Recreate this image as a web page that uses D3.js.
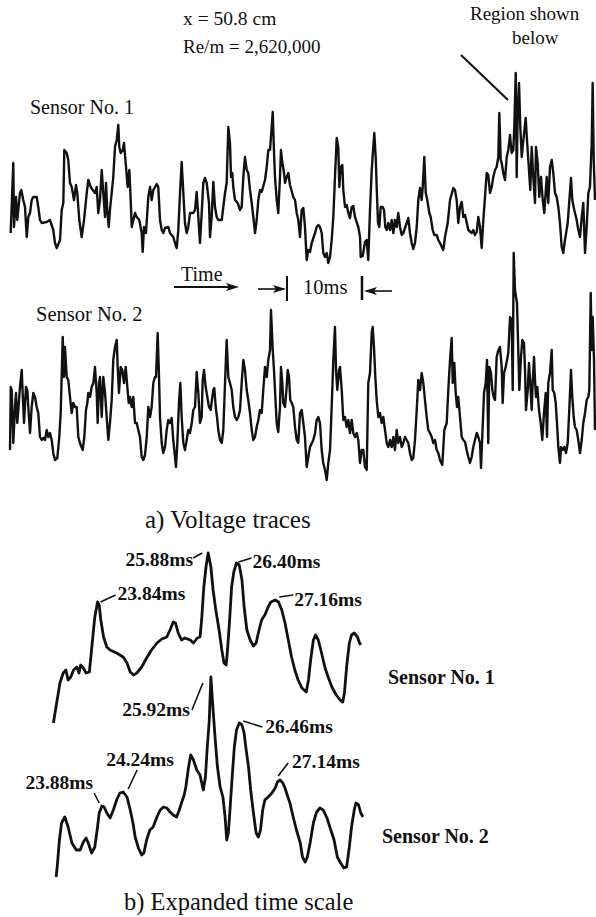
<!DOCTYPE html>
<html>
<head>
<meta charset="utf-8">
<script src="https://cdn.jsdelivr.net/npm/d3@7"></script>
<style>
  body { margin: 0; background: #fff; }
  text { font-family: 'Liberation Serif', 'Times New Roman', serif; fill: #111; }
</style>
</head>
<body>
<div id="chart"></div>
<script>
// Voltage traces, [time (ms), output (V, arbitrary offset)]
const traceSensor1 = [[0.09,0.27],[0.44,0.97],[0.53,0.33],[0.8,0.63],[0.97,0.40],[1.33,0.67],[1.51,0.70],[1.77,0.60],[2.0,0.53],[2.23,0.23],[2.44,0.43],[2.67,0.47],[2.89,0.60],[3.11,0.63],[3.56,0.63],[3.77,0.53],[4.0,0.40],[4.23,0.37],[4.89,0.38],[5.33,0.40],[5.77,0.30],[6.0,0.17],[6.23,0.12],[6.67,0.20],[6.89,0.50],[7.11,0.57],[7.24,1.10],[7.56,1.07],[7.77,1.00],[8.0,0.77],[8.23,0.73],[8.53,0.60],[8.8,0.75],[8.97,0.67],[9.24,0.40],[9.56,0.23],[9.87,0.40],[10.23,0.67],[10.44,0.80],[10.76,0.73],[11.03,0.70],[11.33,0.67],[11.56,0.73],[11.77,0.47],[12.0,0.60],[12.23,0.90],[12.44,0.67],[12.67,0.43],[12.8,0.77],[12.97,0.50],[13.16,0.33],[13.33,0.50],[13.77,0.83],[14.0,1.13],[14.23,1.20],[14.44,1.35],[14.57,1.13],[14.76,1.07],[15.03,1.10],[15.2,1.17],[15.47,0.93],[15.69,0.73],[15.91,0.90],[16.09,0.60],[16.23,0.33],[16.67,0.47],[16.89,0.43],[17.24,0.40],[17.56,0.27],[17.69,0.08],[17.87,0.33],[18.13,0.27],[18.44,0.63],[18.67,0.73],[18.89,0.60],[19.11,0.70],[19.56,0.76],[19.77,0.73],[20.0,0.40],[20.23,0.30],[20.44,0.27],[20.67,0.32],[21.11,0.33],[21.33,0.27],[21.77,0.23],[22.0,0.17],[22.23,0.12],[22.44,0.30],[22.67,0.67],[22.89,0.98],[23.11,0.67],[23.33,0.37],[23.56,0.27],[23.77,0.33],[24.0,0.47],[24.44,0.47],[24.67,0.50],[24.89,0.68],[25.11,0.43],[25.33,0.17],[25.56,0.47],[25.77,0.77],[26.0,0.82],[26.23,0.77],[26.53,0.57],[26.67,0.23],[26.89,0.43],[27.11,0.78],[27.33,0.53],[27.56,0.43],[27.77,0.40],[28.23,0.40],[28.44,0.53],[28.67,0.67],[28.89,0.77],[29.11,1.33],[29.33,1.17],[29.47,0.83],[29.64,0.87],[29.77,0.73],[30.0,0.60],[30.36,0.57],[30.67,0.50],[30.89,0.53],[31.11,0.83],[31.33,1.03],[31.56,0.90],[31.77,0.87],[32.0,0.70],[32.23,0.57],[32.44,0.43],[32.67,0.27],[32.89,0.40],[33.11,0.60],[33.33,0.70],[33.56,0.68],[34.0,0.80],[34.23,0.93],[34.44,1.10],[34.67,1.10],[34.89,1.33],[35.03,1.48],[35.16,1.17],[35.33,0.83],[35.56,0.60],[35.77,0.47],[36.0,0.83],[36.13,1.10],[36.31,0.97],[36.49,0.90],[36.67,0.77],[36.89,0.83],[37.11,0.87],[37.33,0.75],[37.77,0.63],[38.0,0.60],[38.23,0.47],[38.44,0.40],[38.67,0.23],[38.89,0.50],[39.11,0.52],[39.33,0.33],[39.56,0.00],[39.77,0.10],[40.0,0.08],[40.23,0.17],[40.67,0.27],[40.89,0.33],[41.11,0.35],[41.33,0.33],[41.56,0.27],[41.77,0.07],[42.0,0.03],[42.23,0.07],[42.44,-0.03],[42.67,0.03],[42.89,0.20],[43.11,0.43],[43.33,0.83],[43.56,1.22],[43.77,1.13],[43.91,0.73],[44.09,0.93],[44.31,0.95],[44.44,0.70],[44.67,0.53],[44.89,0.55],[45.11,0.47],[45.33,0.42],[45.56,0.53],[45.77,0.54],[46.0,0.43],[46.44,0.33],[46.67,0.23],[46.76,0.03],[47.03,0.04],[47.33,0.18],[47.56,0.20],[47.77,0.00],[48.0,0.50],[48.23,0.90],[48.44,1.13],[48.57,1.27],[48.76,1.03],[48.89,0.73],[49.07,0.37],[49.24,0.33],[49.43,0.53],[49.69,0.53],[49.87,0.50],[50.04,0.33],[50.23,0.30],[50.44,0.37],[50.67,0.30],[50.89,0.40],[51.11,0.27],[51.33,0.40],[51.56,0.33],[51.77,0.47],[52.0,0.33],[52.23,0.25],[52.44,0.27],[52.89,0.37],[53.11,0.42],[53.33,0.27],[53.56,0.17],[53.77,0.11],[54.0,0.17],[54.23,0.33],[54.44,0.60],[54.67,0.72],[54.89,0.60],[55.03,0.73],[55.24,1.03],[55.43,0.67],[55.64,0.60],[55.91,0.47],[56.09,0.43],[56.36,0.30],[56.57,0.25],[56.89,0.25],[57.11,0.20],[57.33,0.17],[57.77,0.10],[58.0,0.23],[58.36,0.37],[58.67,0.60],[59.11,0.72],[59.33,0.70],[59.56,0.60],[59.77,0.37],[60.0,0.53],[60.23,0.58],[60.44,0.43],[60.67,0.45],[61.11,0.30],[61.56,0.27],[61.77,0.30],[62.0,0.25],[62.23,0.28],[62.44,0.43],[62.67,0.33],[62.89,0.12],[63.11,0.40],[63.33,0.63],[63.56,0.87],[63.77,0.85],[64.0,0.67],[64.23,0.73],[64.44,0.83],[64.67,0.90],[64.89,0.93],[65.11,1.03],[65.24,1.47],[65.43,1.00],[65.56,0.97],[65.77,0.87],[66.0,0.80],[66.23,1.03],[66.44,1.10],[66.67,1.25],[66.89,1.07],[67.11,1.10],[67.24,1.33],[67.43,1.87],[67.56,0.83],[67.69,1.47],[67.87,1.77],[68.04,1.33],[68.23,1.03],[68.49,1.23],[68.76,1.42],[68.93,1.20],[69.2,0.90],[69.37,0.70],[69.56,1.13],[69.77,0.83],[70.0,0.57],[70.13,1.13],[70.36,0.97],[70.57,0.63],[70.8,0.83],[71.03,0.60],[71.24,0.47],[71.56,0.83],[71.77,0.57],[72.0,0.93],[72.23,1.00],[72.44,0.87],[72.67,0.67],[72.89,0.63],[73.11,0.53],[73.33,0.37],[73.56,0.13],[73.77,0.07],[74.0,0.20],[74.36,0.37],[74.8,0.82],[74.97,0.60],[75.24,0.50],[75.56,0.40],[75.77,0.30],[76.0,0.23],[76.23,0.43],[76.44,0.57],[76.67,0.07],[76.89,0.33],[77.11,0.67],[77.33,0.73],[77.56,1.17],[77.69,1.77],[77.83,1.00],[78.0,0.60]];

const traceSensor2 = [[0.0,0.40],[0.1,1.03],[0.23,1.00],[0.44,0.47],[0.67,0.83],[0.8,0.97],[0.97,0.67],[1.11,0.80],[1.33,1.03],[1.56,1.20],[1.69,0.97],[1.87,0.67],[2.13,1.03],[2.31,1.00],[2.44,0.83],[2.67,0.57],[2.89,0.83],[3.11,0.97],[3.33,0.93],[3.56,0.83],[3.77,0.77],[4.0,0.53],[4.23,0.50],[4.44,0.52],[4.67,0.50],[4.89,0.60],[5.11,0.53],[5.33,0.57],[5.56,0.50],[5.77,0.37],[6.0,0.30],[6.31,0.32],[6.57,0.53],[6.76,0.77],[7.03,1.53],[7.2,1.13],[7.33,1.43],[7.56,1.13],[7.77,1.10],[8.0,0.93],[8.23,0.77],[8.44,0.87],[8.67,0.83],[8.89,0.83],[9.11,0.53],[9.33,0.47],[9.69,0.40],[9.91,0.53],[10.13,0.80],[10.31,0.87],[10.44,0.97],[10.67,0.93],[10.89,1.03],[11.11,1.07],[11.33,1.23],[11.56,0.97],[11.69,0.67],[11.87,1.07],[12.0,1.13],[12.23,0.73],[12.44,1.13],[12.67,0.97],[12.89,0.73],[13.11,0.50],[13.33,0.67],[13.56,0.90],[13.77,1.30],[14.0,1.43],[14.23,1.50],[14.36,1.23],[14.53,0.97],[14.76,1.23],[14.97,1.20],[15.2,1.07],[15.43,1.23],[15.64,1.03],[15.83,0.87],[16.0,0.93],[16.23,0.83],[16.44,0.93],[16.67,0.67],[16.89,0.67],[17.11,0.60],[17.33,0.53],[17.56,0.33],[17.77,0.30],[18.0,0.35],[18.23,0.53],[18.44,0.83],[18.67,0.73],[18.89,0.83],[19.11,1.07],[19.33,1.13],[19.47,1.13],[19.69,1.57],[19.87,1.13],[20.0,0.73],[20.23,0.47],[20.44,0.37],[20.67,0.43],[20.89,0.60],[21.11,0.70],[21.33,0.67],[21.56,0.72],[21.77,0.50],[22.0,0.33],[22.13,0.23],[22.31,0.47],[22.53,0.87],[22.71,1.07],[22.89,0.73],[23.11,0.47],[23.33,0.40],[23.56,0.50],[23.77,0.60],[24.0,0.57],[24.23,0.67],[24.44,0.80],[24.67,0.83],[24.89,1.18],[25.11,0.97],[25.33,0.67],[25.56,0.73],[25.69,1.10],[25.87,1.20],[26.09,1.03],[26.31,0.93],[26.53,0.83],[26.76,0.80],[26.89,0.88],[27.11,1.00],[27.24,1.02],[27.43,0.83],[27.6,0.73],[27.77,0.60],[28.0,0.50],[28.23,0.47],[28.44,0.60],[28.67,1.07],[28.89,1.50],[29.11,1.13],[29.33,1.07],[29.56,1.00],[29.77,0.83],[30.0,0.73],[30.23,0.70],[30.44,0.73],[30.67,0.80],[30.89,1.07],[31.11,1.30],[31.33,1.20],[31.56,1.00],[31.77,0.90],[32.0,0.77],[32.23,0.60],[32.44,0.50],[32.67,0.53],[32.89,0.63],[33.11,0.70],[33.33,0.80],[33.56,0.77],[33.77,1.00],[34.0,1.23],[34.23,1.13],[34.44,1.30],[34.67,1.40],[34.8,1.80],[35.03,1.40],[35.2,1.20],[35.33,1.00],[35.56,0.67],[35.77,0.58],[36.0,0.83],[36.13,1.23],[36.31,1.07],[36.44,0.87],[36.67,0.83],[36.89,1.03],[37.03,1.20],[37.2,1.13],[37.37,0.90],[37.56,0.87],[37.77,0.83],[38.0,0.63],[38.23,0.50],[38.44,0.47],[38.67,0.77],[38.89,0.80],[39.11,0.67],[39.33,0.53],[39.56,0.23],[39.77,0.33],[40.0,0.43],[40.44,0.50],[40.67,0.57],[40.89,0.70],[41.11,0.73],[41.33,0.67],[41.56,0.40],[41.77,0.27],[42.0,0.20],[42.23,0.10],[42.44,0.27],[42.67,0.40],[42.89,0.83],[43.11,1.30],[43.33,1.63],[43.47,1.20],[43.64,1.00],[43.87,1.20],[44.0,1.23],[44.23,1.00],[44.44,0.70],[44.67,0.73],[44.89,0.63],[45.11,0.70],[45.33,0.57],[45.56,0.70],[45.77,0.57],[46.0,0.53],[46.23,0.57],[46.44,0.50],[46.67,0.27],[46.89,0.40],[47.11,0.40],[47.33,0.23],[47.56,0.20],[47.77,1.07],[48.0,1.17],[48.23,1.57],[48.36,1.63],[48.53,1.43],[48.71,1.13],[48.89,0.90],[49.11,0.73],[49.33,0.77],[49.56,0.67],[49.77,0.73],[50.0,0.60],[50.23,0.47],[50.44,0.43],[50.67,0.50],[50.89,0.43],[51.11,0.53],[51.33,0.40],[51.56,0.60],[51.77,0.47],[52.0,0.53],[52.23,0.43],[52.44,0.47],[52.67,0.53],[52.89,0.50],[53.11,0.47],[53.33,0.37],[53.56,0.30],[53.77,0.32],[54.0,0.50],[54.23,0.80],[54.44,1.10],[54.67,1.00],[54.89,1.17],[55.11,1.07],[55.33,0.90],[55.56,0.73],[55.77,0.60],[56.0,0.57],[56.23,0.53],[56.44,0.47],[56.67,0.50],[56.89,0.40],[57.11,0.37],[57.33,0.30],[57.64,0.25],[57.91,0.60],[58.23,0.67],[58.44,1.00],[58.67,1.30],[58.89,1.52],[59.03,1.07],[59.24,1.27],[59.43,0.97],[59.6,0.83],[59.77,0.93],[60.0,0.73],[60.23,0.53],[60.44,0.50],[60.67,0.48],[60.89,0.40],[61.11,0.33],[61.33,0.27],[61.56,0.33],[61.77,0.43],[62.0,0.50],[62.23,0.57],[62.44,0.53],[62.67,0.47],[62.8,0.22],[62.97,0.53],[63.2,0.97],[63.43,1.07],[63.6,1.30],[63.77,0.47],[63.91,1.23],[64.13,1.17],[64.31,1.00],[64.49,0.93],[64.67,0.90],[64.89,1.33],[65.11,1.40],[65.33,1.43],[65.56,1.23],[65.69,0.87],[65.87,1.17],[66.09,1.23],[66.27,1.30],[66.44,1.37],[66.67,1.73],[66.89,1.70],[67.03,1.00],[67.16,2.37],[67.33,2.00],[67.47,1.93],[67.6,1.87],[67.77,1.40],[67.91,1.00],[68.13,1.33],[68.31,1.50],[68.53,1.47],[68.67,1.20],[68.8,0.80],[69.03,1.00],[69.2,1.27],[69.37,1.07],[69.56,0.80],[69.69,1.07],[69.87,1.33],[70.0,1.10],[70.13,0.93],[70.31,1.03],[70.53,0.80],[70.76,0.67],[70.97,0.50],[71.2,0.77],[71.43,0.97],[71.6,0.53],[71.77,1.07],[72.0,1.17],[72.23,1.40],[72.36,1.00],[72.57,0.97],[72.76,0.87],[72.93,0.67],[73.11,0.43],[73.33,0.27],[73.47,0.43],[73.69,0.40],[73.91,0.43],[74.13,0.37],[74.36,0.47],[74.57,0.80],[74.8,1.20],[74.97,0.93],[75.16,0.73],[75.33,0.63],[75.56,0.60],[75.77,0.50],[76.0,0.37],[76.23,0.50],[76.44,0.67],[76.67,0.77],[76.89,0.90],[77.11,0.93],[77.24,1.00],[77.43,1.97],[77.56,1.40],[77.69,1.73],[77.87,1.30],[78.0,0.60]];

// Expanded region, [time (ms), output (V)]
const expandedSensor1 = [[23.04,0.07],[23.10,0.27],[23.16,0.47],[23.22,0.57],[23.27,0.60],[23.31,0.50],[23.36,0.53],[23.41,0.60],[23.47,0.63],[23.51,0.57],[23.54,0.65],[23.59,0.62],[23.64,0.57],[23.70,0.58],[23.74,0.80],[23.77,0.97],[23.80,1.13],[23.85,1.28],[23.88,1.25],[23.91,1.10],[23.96,0.93],[24.02,0.83],[24.08,0.80],[24.20,0.77],[24.32,0.73],[24.39,0.67],[24.45,0.58],[24.51,0.55],[24.57,0.57],[24.66,0.63],[24.75,0.72],[24.84,0.80],[24.94,0.87],[25.03,0.91],[25.12,0.93],[25.18,1.00],[25.24,1.08],[25.28,1.07],[25.33,0.97],[25.39,0.90],[25.45,0.92],[25.55,0.90],[25.61,0.87],[25.68,0.92],[25.73,0.93],[25.76,1.10],[25.80,1.43],[25.84,1.63],[25.88,1.77],[25.93,1.63],[25.97,1.40],[26.02,1.20],[26.08,1.00],[26.13,0.80],[26.17,0.67],[26.21,0.65],[26.23,0.77],[26.27,1.07],[26.31,1.43],[26.35,1.58],[26.40,1.67],[26.45,1.65],[26.50,1.50],[26.54,1.23],[26.59,1.00],[26.65,0.90],[26.71,0.84],[26.76,0.87],[26.80,0.97],[26.86,1.10],[26.92,1.15],[26.98,1.23],[27.03,1.28],[27.11,1.30],[27.17,1.28],[27.23,1.20],[27.29,1.07],[27.35,0.90],[27.41,0.73],[27.47,0.60],[27.53,0.50],[27.60,0.42],[27.68,0.38],[27.72,0.50],[27.76,0.70],[27.81,0.90],[27.85,0.95],[27.90,0.90],[27.96,0.77],[28.02,0.63],[28.08,0.53],[28.15,0.43],[28.23,0.35],[28.30,0.30],[28.35,0.28],[28.38,0.37],[28.42,0.63],[28.47,0.87],[28.51,0.95],[28.56,0.97],[28.62,0.93],[28.65,0.88],[28.68,0.85]];

const expandedSensor2 = [[23.09,0.03],[23.11,0.13],[23.15,0.40],[23.19,0.57],[23.25,0.63],[23.31,0.53],[23.38,0.37],[23.46,0.30],[23.53,0.30],[23.59,0.38],[23.64,0.42],[23.68,0.37],[23.74,0.27],[23.80,0.33],[23.85,0.53],[23.88,0.67],[23.93,0.74],[23.97,0.73],[24.02,0.67],[24.08,0.62],[24.14,0.70],[24.20,0.80],[24.26,0.87],[24.32,0.88],[24.39,0.83],[24.45,0.70],[24.50,0.57],[24.54,0.43],[24.60,0.32],[24.66,0.25],[24.70,0.27],[24.75,0.40],[24.81,0.50],[24.87,0.53],[24.94,0.63],[25.00,0.70],[25.06,0.73],[25.12,0.72],[25.18,0.68],[25.24,0.65],[25.30,0.63],[25.35,0.70],[25.39,0.77],[25.44,0.85],[25.47,0.93],[25.52,1.13],[25.56,1.25],[25.61,1.20],[25.67,1.10],[25.73,1.05],[25.79,0.90],[25.83,1.03],[25.86,1.30],[25.90,1.60],[25.93,2.03],[25.97,1.70],[26.01,1.40],[26.05,1.13],[26.10,0.93],[26.15,0.83],[26.19,0.63],[26.22,0.40],[26.25,0.47],[26.28,0.70],[26.32,1.03],[26.36,1.33],[26.40,1.50],[26.45,1.57],[26.50,1.55],[26.54,1.47],[26.57,1.33],[26.62,1.13],[26.66,0.90],[26.71,0.67],[26.76,0.47],[26.80,0.43],[26.84,0.50],[26.88,0.70],[26.92,0.80],[26.98,0.83],[27.05,0.87],[27.11,0.92],[27.15,0.98],[27.20,1.00],[27.25,0.97],[27.29,0.92],[27.33,0.85],[27.38,0.77],[27.44,0.63],[27.50,0.50],[27.57,0.37],[27.61,0.23],[27.66,0.18],[27.70,0.23],[27.75,0.37],[27.81,0.57],[27.87,0.68],[27.93,0.72],[27.99,0.70],[28.06,0.62],[28.13,0.50],[28.19,0.40],[28.25,0.23],[28.31,0.17],[28.37,0.12],[28.42,0.13],[28.47,0.33],[28.51,0.53],[28.56,0.70],[28.59,0.77],[28.64,0.75],[28.68,0.67],[28.72,0.63]];

// Labelled peaks in the expanded traces: [time (ms), output (V)]
const peaks1 = [[23.85,1.28],[25.88,1.77],[26.40,1.67],[27.11,1.30]];
const peakLabels1 = ['23.84ms','25.88ms','26.40ms','27.16ms'];
const peaks2 = [[23.88,0.67],[24.32,0.88],[25.93,2.03],[26.45,1.57],[27.20,1.00]];
const peakLabels2 = ['23.88ms','24.24ms','25.92ms','26.46ms','27.14ms'];

// scale bar on the top panel
const scaleBarStart = 36.93, scaleBarLength = 10;

const width = 596, height = 917;

const svg = d3.select('#chart')
  .append('svg')
  .attr('width', width)
  .attr('height', height);

// scales
const xTop = d3.scaleLinear().domain([0, 78]).range([10, 595]);
const yS1 = d3.scaleLinear().domain([0, 2]).range([260, 60]);
const yS2 = d3.scaleLinear().domain([0, 2.4]).range([490, 250]);
const xExp = d3.scaleLinear().domain([23, 29]).range([51.22, 378.22]);
const yE1 = d3.scaleLinear().domain([0, 2]).range([730, 530]);
const yE2 = d3.scaleLinear().domain([0, 2]).range([880, 680]);

const drawTrace = (data, x, y, sw) => {
  svg.append('path')
    .datum(data)
    .attr('fill', 'none')
    .attr('stroke', '#111')
    .attr('stroke-width', sw)
    .attr('stroke-linejoin', 'round')
    .attr('d', d3.line().x(d => x(d[0])).y(d => y(d[1])));
};

drawTrace(traceSensor1, xTop, yS1, 2.4);
drawTrace(traceSensor2, xTop, yS2, 2.4);
drawTrace(expandedSensor1, xExp, yE1, 2.8);
drawTrace(expandedSensor2, xExp, yE2, 2.8);

const label = (x, y, str, size, weight, anchor) =>
  svg.append('text')
    .attr('x', x).attr('y', y)
    .attr('font-size', size)
    .attr('font-weight', weight || 'normal')
    .attr('text-anchor', anchor || 'start')
    .text(str);

// top panel annotations
label(183, 25, 'x = 50.8 cm', 19.5);
label(183, 53, 'Re/m = 2,620,000', 19);
label(470, 20, 'Region shown', 19);
label(512, 44, 'below', 19);
svg.append('line')
  .attr('x1', 461).attr('y1', 55).attr('x2', 508).attr('y2', 100)
  .attr('stroke', '#111').attr('stroke-width', 2);

label(30, 114, 'Sensor No. 1', 20);
label(36, 321, 'Sensor No. 2', 20.5);

// time arrow and 10 ms scale bar
const arrowHead = (x, y, dir) => {
  svg.append('path')
    .attr('d', `M${x},${y} L${x - dir * 13},${y - 4} L${x - dir * 10},${y} L${x - dir * 13},${y + 4} Z`)
    .attr('fill', '#111');
};
label(181, 281, 'Time', 20);
svg.append('line').attr('x1', 174).attr('y1', 287).attr('x2', 236).attr('y2', 287)
  .attr('stroke', '#111').attr('stroke-width', 2);
arrowHead(239, 287, 1);

const barL = xTop(scaleBarStart), barR = xTop(scaleBarStart + scaleBarLength);
svg.append('line').attr('x1', barL).attr('y1', 276).attr('x2', barL).attr('y2', 301)
  .attr('stroke', '#111').attr('stroke-width', 2);
svg.append('line').attr('x1', barR).attr('y1', 276).attr('x2', barR).attr('y2', 300)
  .attr('stroke', '#111').attr('stroke-width', 2.5);
svg.append('line').attr('x1', barL - 29).attr('y1', 289).attr('x2', barL - 3).attr('y2', 289)
  .attr('stroke', '#111').attr('stroke-width', 1.6);
arrowHead(barL - 1, 289, 1);
svg.append('line').attr('x1', barR + 30).attr('y1', 291).attr('x2', barR + 4).attr('y2', 291)
  .attr('stroke', '#111').attr('stroke-width', 1.6);
arrowHead(barR + 2, 291, -1);
label(barL + 16, 294, '10ms', 20.5);

label(145, 528, 'a) Voltage traces', 25);

// expanded panel annotations
const drawPeakLabels = (peaks, labels, y, offsets) => {
  peaks.forEach((p, i) => {
    const px = xExp(p[0]), py = y(p[1]);
    const o = offsets[i];
    svg.append('line')
      .attr('x1', px + o.l[0]).attr('y1', py + o.l[1])
      .attr('x2', px + o.l[2]).attr('y2', py + o.l[3])
      .attr('stroke', '#111').attr('stroke-width', 1.6);
    label(px + o.t[0], py + o.t[1], labels[i], 19.5, 'bold', o.a);
  });
};

drawPeakLabels(peaks1, peakLabels1, yE1, [
  { t: [20, -2], l: [3, 0, 18, -7], a: 'start' },
  { t: [-15, 13], l: [-15, 5, -6, 0], a: 'end' },
  { t: [16, 5], l: [2, -1, 15, -5], a: 'start' },
  { t: [19, 6], l: [4, -3, 18, -5], a: 'start' }
]);
drawPeakLabels(peaks2, peakLabels2, yE2, [
  { t: [-6, -24], l: [-5, -20, 0, -10], a: 'end' },
  { t: [-17, -26], l: [14, -22, 5, -3], a: 'start' },
  { t: [-21, 39], l: [-19, 33, -8, 6], a: 'end' },
  { t: [26, 10], l: [4, -2, 23, 4], a: 'start' },
  { t: [12, -12], l: [-2, -4, 8, -17], a: 'start' }
]);

label(388, 684, 'Sensor No. 1', 20, 'bold');
label(382, 843, 'Sensor No. 2', 20, 'bold');
label(124, 910, 'b) Expanded time scale', 24.5);
</script>
</body>
</html>
